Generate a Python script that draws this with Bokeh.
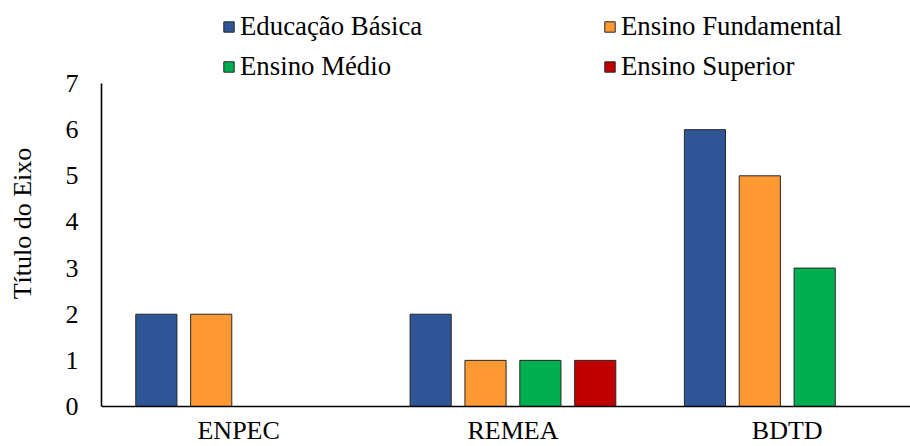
from bokeh.plotting import figure
from bokeh.models import Range1d, FixedTicker, Span, ColumnDataSource
from bokeh.core.properties import value
from bokeh.embed import file_html
from bokeh.resources import INLINE

# ---- data ----
categories = ["ENPEC", "REMEA", "BDTD"]
series_names = ["Educação Básica", "Ensino Fundamental", "Ensino Médio", "Ensino Superior"]
educacao_basica = [2, 2, 6]
ensino_fundamental = [2, 1, 5]
ensino_medio = [0, 1, 3]
ensino_superior = [0, 1, 0]
y_ticks = [0, 1, 2, 3, 4, 5, 6, 7]
y_title = "Título do Eixo"

series_values = [educacao_basica, ensino_fundamental, ensino_medio, ensino_superior]
colors = ["#2F5597", "#FF9933", "#00B050", "#C00000"]
offsets = [-0.3, -0.1, 0.1, 0.3]
bar_width = 0.15

FONT = "Liberation Serif"
FS = "26px"

# pixel geometry
W, H = 910, 446
left = 101
px_per_x = 274.3
px_per_y = 46.14
zero_px_from_top = 406  # y=0 line measured from canvas top
x_end = -0.5 + (W - left) / px_per_x
y_top = zero_px_from_top / px_per_y
y_bot = -(H - zero_px_from_top) / px_per_y

p = figure(width=W, height=H, output_backend="svg", toolbar_location=None,
           x_range=Range1d(-0.5, x_end), y_range=Range1d(y_bot, y_top),
           x_axis_location=None, y_axis_location="left",
           min_border_left=left, min_border_right=0, min_border_top=0, min_border_bottom=0)
p.outline_line_color = None
p.grid.visible = False
p.background_fill_color = "white"

xs = list(range(len(categories)))
for name, vals, col, off in zip(series_names, series_values, colors, offsets):
    src = ColumnDataSource(dict(x=[x + off for x in xs], top=vals))
    p.vbar(x="x", top="top", bottom=0, width=bar_width, source=src,
           fill_color=col, line_color="#262626", line_width=1, legend_label=name)

# x baseline
p.add_layout(Span(location=0, dimension="width", line_color="black", line_width=1.6))

# category labels
p.text(x=xs, y=[0] * len(xs), text=categories, text_font=value(FONT),
       text_font_size=FS, text_align="center", text_baseline="alphabetic",
       y_offset=24, text_color="black")

# y axis
ya = p.yaxis[0]
ya.bounds = (0, 7)
ya.ticker = FixedTicker(ticks=y_ticks)
ya.minor_tick_line_color = None
ya.major_tick_line_color = None
ya.major_tick_out = 0
ya.major_tick_in = 0
ya.axis_line_color = "black"
ya.axis_line_width = 1.6
ya.major_label_text_font = FONT
ya.major_label_text_font_size = FS
ya.major_label_text_color = "black"
ya.major_label_standoff = 23
ya.axis_label = y_title
ya.axis_label_text_font = FONT
ya.axis_label_text_font_size = FS
ya.axis_label_text_font_style = "normal"
ya.axis_label_text_color = "black"
ya.axis_label_standoff = 26

# legend
lg = p.legend[0]
lg.orientation = "horizontal"
lg.ncols = 2
lg.location = (121, 364)
lg.padding = 0
lg.margin = 0
lg.spacing = 9
lg.glyph_width = 13
lg.glyph_height = 13
lg.label_standoff = 5
lg.label_width = 354
lg.label_height = 29
lg.label_text_font = FONT
lg.label_text_font_size = "26.8px"
lg.label_text_color = "black"
lg.border_line_alpha = 0
lg.background_fill_alpha = 0

open("out.html", "w").write(file_html(p, INLINE))
